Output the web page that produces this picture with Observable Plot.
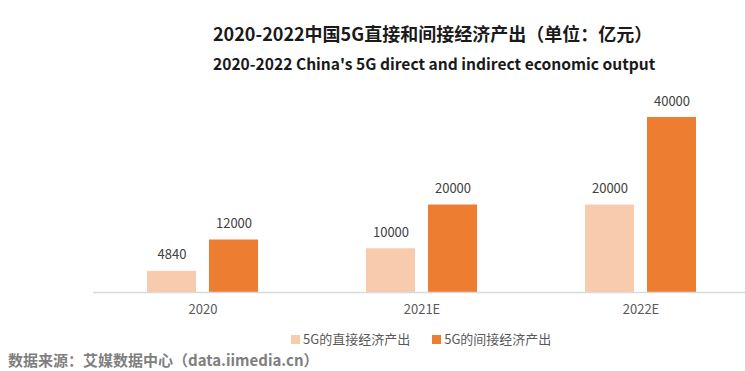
<!DOCTYPE html>
<html>
<head>
<meta charset="utf-8">
<script src="https://cdn.jsdelivr.net/npm/d3@7"></script>
<script src="https://cdn.jsdelivr.net/npm/@observablehq/plot@0.6"></script>
<style>
  html, body { margin: 0; padding: 0; background: #fff; overflow: hidden; width: 745px; height: 371px; }
  body { font-family: "Noto Sans CJK SC", "Noto Sans", sans-serif; }
  #title { position: absolute; left: 213px; top: 21px; height: 24px; line-height: 24px; font-size: 18px; font-weight: bold; color: #1a1a1a; white-space: nowrap; }
  #subtitle { position: absolute; left: 213px; top: 52px; height: 22px; line-height: 22px; font-size: 15.6px; font-weight: bold; color: #1a1a1a; white-space: nowrap; }
  #chart { position: absolute; left: 0; top: 80px; }
  #legend { position: absolute; left: 291px; top: 330px; height: 18px; line-height: 18px; font-size: 13px; color: #595959; display: flex; white-space: nowrap; }
  .item { display: flex; align-items: center; margin-right: 22px; }
  .sw { width: 9px; height: 9px; margin-right: 3px; }
  #source { position: absolute; left: 8px; top: 349px; height: 22px; line-height: 22px; font-size: 15px; font-weight: bold; color: #7f7f7f; white-space: nowrap; }
</style>
</head>
<body>
<div id="title"></div>
<div id="subtitle"></div>
<div id="chart"></div>
<div id="legend"></div>
<div id="source"></div>
<script>
const titleText = "2020-2022中国5G直接和间接经济产出（单位：亿元）";
const subtitleText = "2020-2022 China's 5G direct and indirect economic output";
const sourceText = "数据来源：艾媒数据中心（data.iimedia.cn）";
const years = ["2020", "2021E", "2022E"];
const seriesNames = ["5G的直接经济产出", "5G的间接经济产出"];
const directValues = [4840, 10000, 20000];
const indirectValues = [12000, 20000, 40000];
const colors = ["#F8CBAD", "#ED7D31"];

document.getElementById("title").textContent = titleText;
document.getElementById("subtitle").textContent = subtitleText;
document.getElementById("source").textContent = sourceText;

const data = [];
years.forEach((y, i) => {
  data.push({year: y, series: seriesNames[0], value: directValues[i]});
  data.push({year: y, series: seriesNames[1], value: indirectValues[i]});
});

const chart = Plot.plot({
  width: 745,
  height: 250,
  marginTop: 37,
  marginBottom: 38,
  marginLeft: 92,
  marginRight: -5,
  style: {fontFamily: "'Noto Sans CJK SC', 'Noto Sans', sans-serif", fontSize: "13px", color: "#595959", background: "transparent", overflow: "visible"},
  fx: {domain: years, padding: 0, axis: "bottom", tickSize: 0, tickPadding: 12, label: null},
  x: {domain: seriesNames, axis: null, paddingInner: 0.21, paddingOuter: 0.87},
  y: {domain: [0, 40000], axis: null},
  color: {domain: seriesNames, range: colors},
  marks: [
    Plot.barY(data, {fx: "year", x: "series", y: "value", fill: "series"}),
    Plot.ruleY([0], {stroke: "#d9d9d9", strokeWidth: 1.5}),
    Plot.text(data, {fx: "year", x: "series", y: "value", text: d => String(d.value), dy: -16, fill: "#404040", fontSize: 13})
  ]
});
document.getElementById("chart").appendChild(chart);

const legend = document.getElementById("legend");
seriesNames.forEach((s, i) => {
  const item = document.createElement("div");
  item.className = "item";
  const sw = document.createElement("div");
  sw.className = "sw";
  sw.style.background = colors[i];
  const t = document.createElement("span");
  t.textContent = s;
  item.appendChild(sw);
  item.appendChild(t);
  legend.appendChild(item);
});
</script>
</body>
</html>
